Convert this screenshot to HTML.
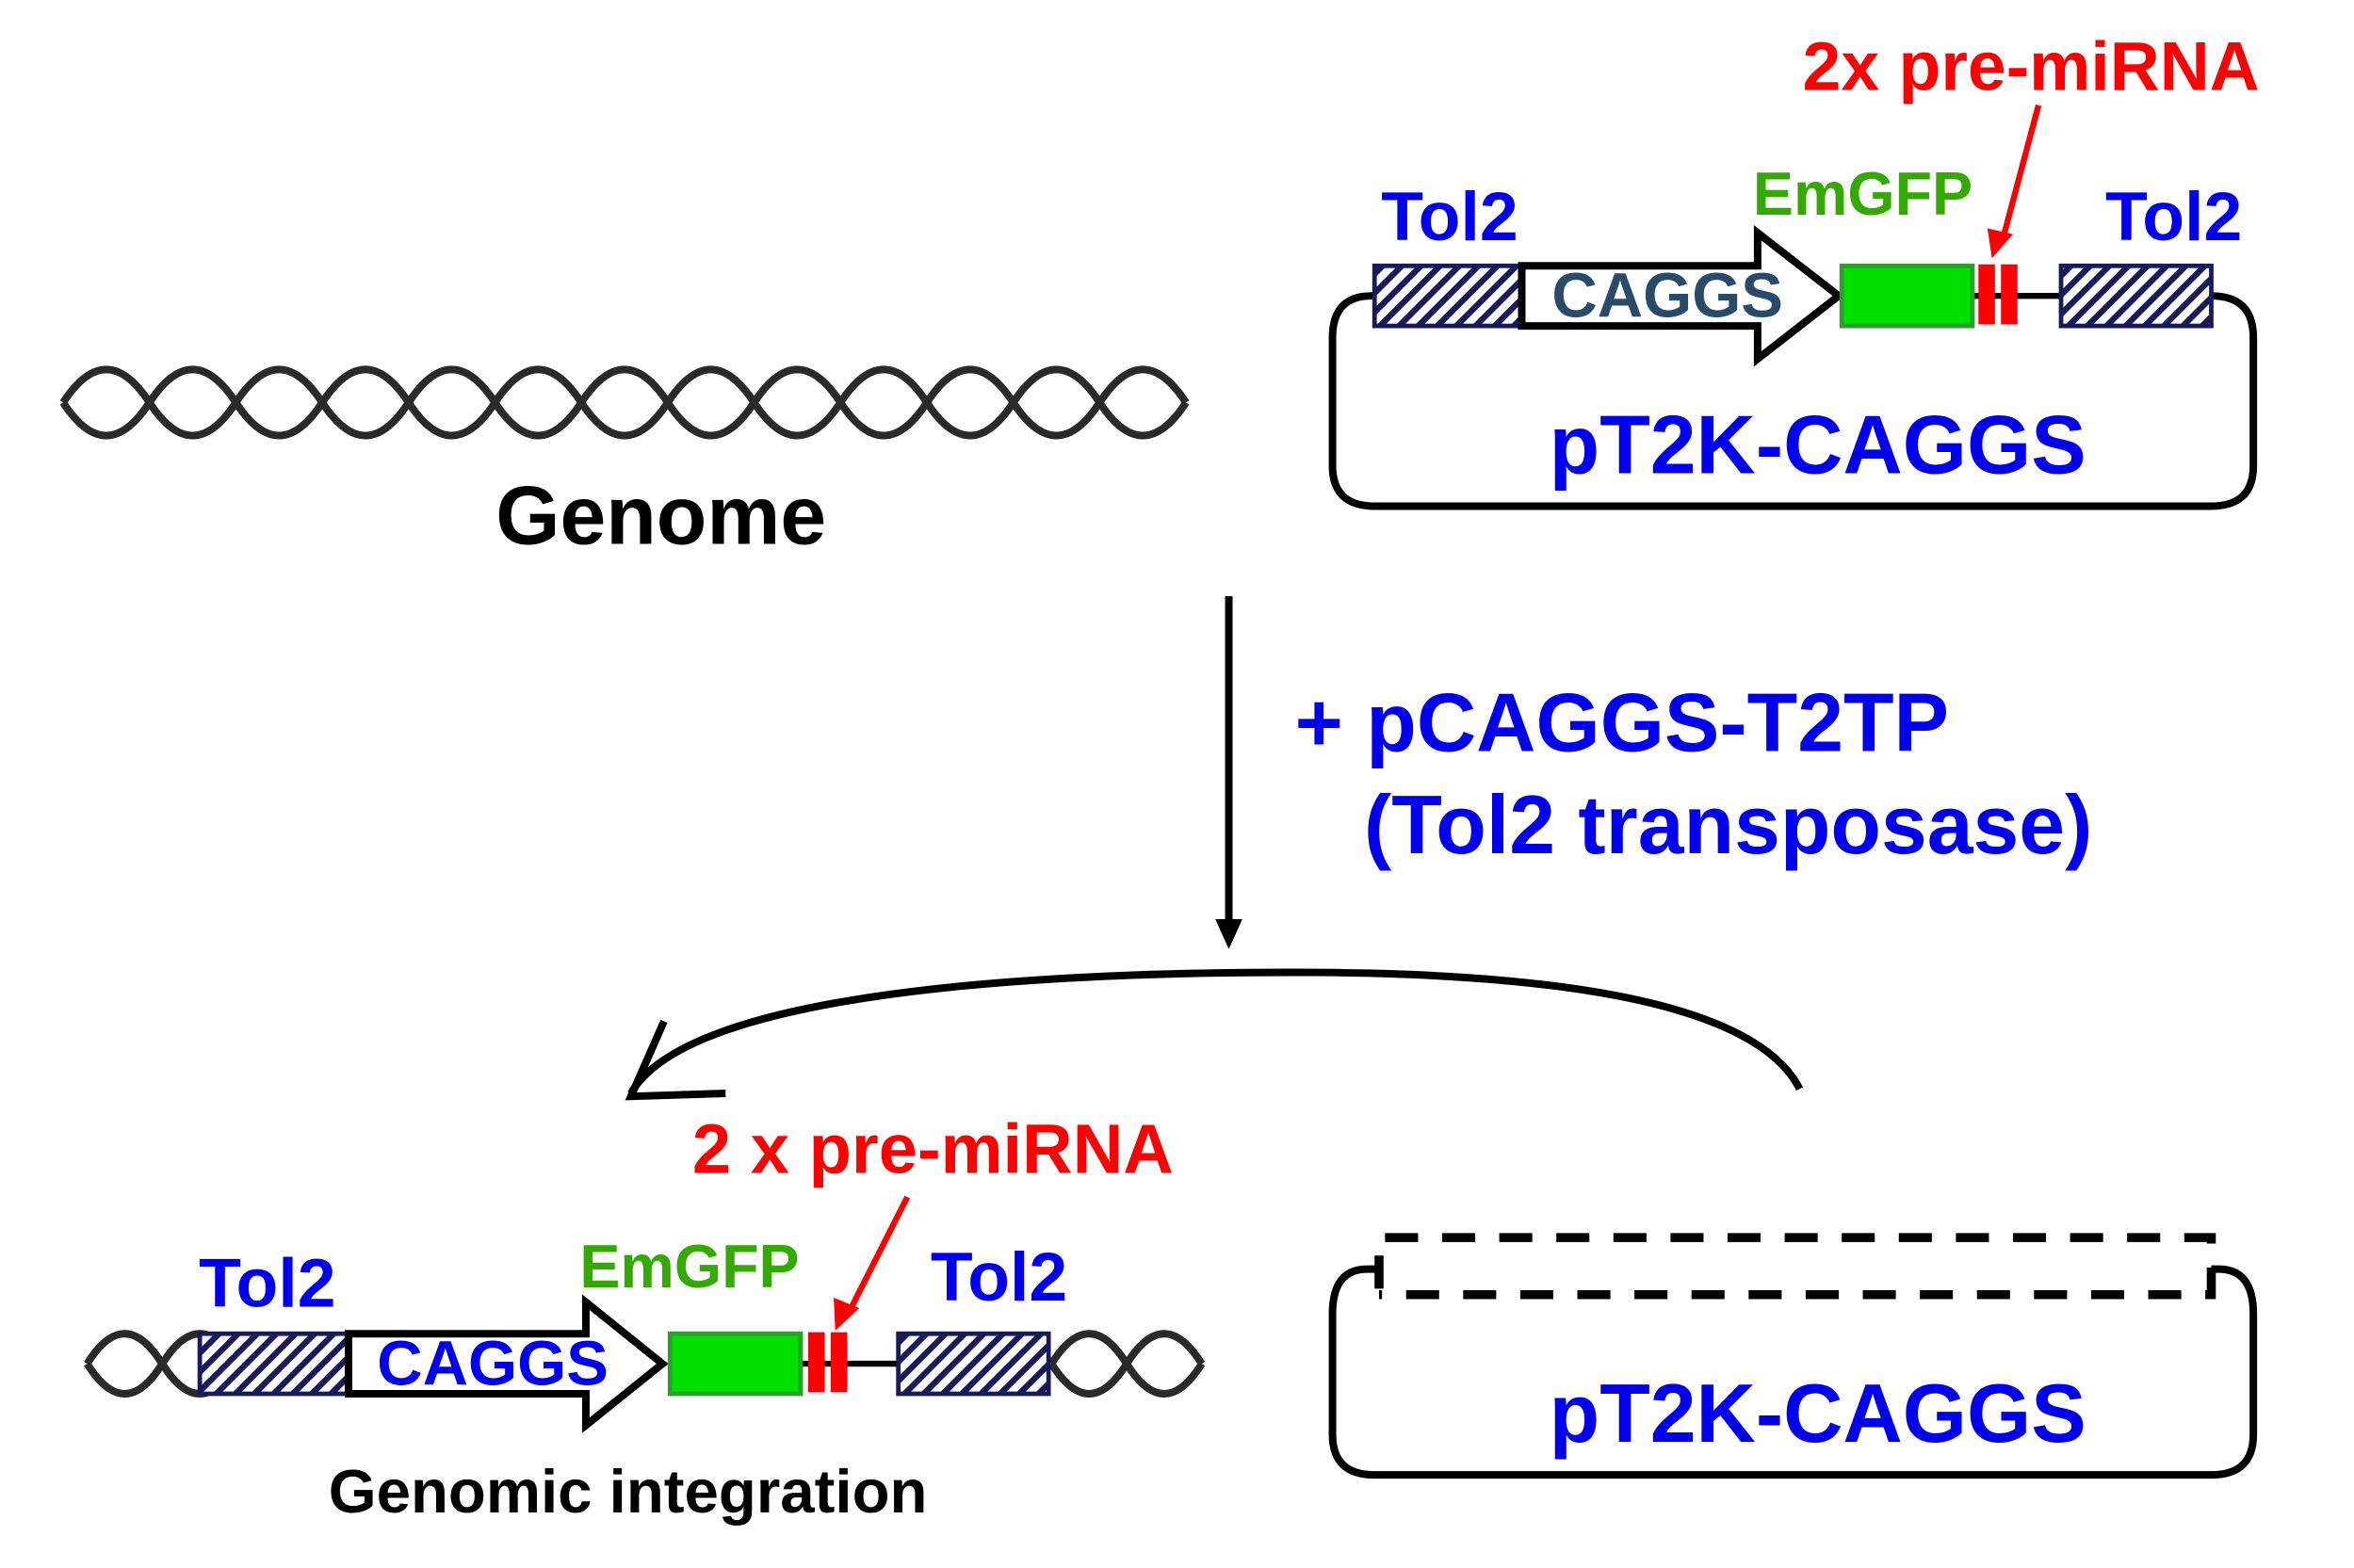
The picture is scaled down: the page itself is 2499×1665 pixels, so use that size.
<!DOCTYPE html>
<html><head><meta charset="utf-8"><style>html,body{margin:0;padding:0;background:#fff}svg{display:block}</style></head>
<body>
<svg width="2499" height="1665" viewBox="0 0 1567 1044" preserveAspectRatio="none" xmlns="http://www.w3.org/2000/svg" font-family="Liberation Sans, Arial, sans-serif" font-weight="bold">
<defs>
<pattern id="h" width="9" height="9" patternUnits="userSpaceOnUse" patternTransform="rotate(45)">
<rect width="9" height="9" fill="#fff"/><rect width="4" height="9" fill="#1a1a5a"/>
</pattern>
</defs>
<!-- genome helix -->
<g fill="none" stroke="#2a2a2a" stroke-width="5">
<path d="M42,268 q28.75,-44 57.5,0 t57.5,0 t57.5,0 t57.5,0 t57.5,0 t57.5,0 t57.5,0 t57.5,0 t57.5,0 t57.5,0 t57.5,0 t57.5,0 t57.5,0"/>
<path d="M42,268 q28.75,44 57.5,0 t57.5,0 t57.5,0 t57.5,0 t57.5,0 t57.5,0 t57.5,0 t57.5,0 t57.5,0 t57.5,0 t57.5,0 t57.5,0 t57.5,0"/>
</g>
<text x="440" y="362" font-size="55" text-anchor="middle" fill="#000">Genome</text>

<!-- top plasmid -->
<path d="M915,197 H913 Q887,197 887,225 V310 Q887,337 915,337 H1472 Q1500,337 1500,310 V225 Q1500,197 1472,197" fill="none" stroke="#000" stroke-width="5"/>
<line x1="1313" y1="197" x2="1372" y2="197" stroke="#000" stroke-width="4"/>
<rect x="915" y="177" width="98" height="40" fill="url(#h)" stroke="#1a1a5a" stroke-width="3"/>
<rect x="1372" y="177" width="100" height="40" fill="url(#h)" stroke="#1a1a5a" stroke-width="3"/>
<path d="M1013,177 H1170 V155 L1224,197 L1170,239 V217 H1013 Z" fill="#fff" stroke="#000" stroke-width="5"/>
<rect x="1226" y="177" width="87" height="40" fill="#00e000" stroke="#2aa02a" stroke-width="3"/>
<rect x="1317" y="176" width="11" height="40" fill="#f00"/><rect x="1332" y="176" width="11" height="40" fill="#f00"/>
<text x="965" y="160" font-size="46" text-anchor="middle" fill="#0000ee">Tol2</text>
<text x="1447" y="160" font-size="46" text-anchor="middle" fill="#0000ee">Tol2</text>
<text x="1240" y="143" font-size="40.5" text-anchor="middle" fill="#33aa00">EmGFP</text>
<text x="1352" y="60" font-size="46" text-anchor="middle" fill="#f00">2x pre-miRNA</text>
<line x1="1357" y1="70" x2="1333" y2="160" stroke="#f00" stroke-width="4"/>
<path d="M1326,172 L1323,152 L1340,156 Z" fill="#f00"/>
<text x="1110" y="211" font-size="42" text-anchor="middle" fill="#2a4a6a">CAGGS</text>
<text x="1210" y="315" font-size="55" text-anchor="middle" fill="#0000ee">pT2K-CAGGS</text>

<!-- vertical arrow -->
<line x1="818" y1="397" x2="818" y2="615" stroke="#000" stroke-width="5"/>
<path d="M809,612 L827,612 L818,632 Z" fill="#000"/>
<text x="862" y="500" font-size="55" fill="#0000ee">+ pCAGGS-T2TP</text>
<text x="908" y="568" font-size="55" fill="#0000ee">(Tol2 transposase)</text>

<!-- curved arrow -->
<path d="M1198,725 C1160,650 950,645 800,648 C600,652 450,675 420,728" fill="none" stroke="#000" stroke-width="5"/>
<path d="M442,680 L420,730 L483,728" fill="none" stroke="#000" stroke-width="5"/>

<!-- bottom integration -->
<g fill="none" stroke="#2a2a2a" stroke-width="5">
<path d="M58,908 q25,-40 50,0 t50,0"/>
<path d="M58,908 q25,40 50,0 t50,0"/>
<path d="M700,908 q25,-40 50,0 t50,0"/>
<path d="M700,908 q25,40 50,0 t50,0"/>
</g>
<rect x="133" y="888" width="99" height="40" fill="url(#h)" stroke="#1a1a5a" stroke-width="3"/>
<line x1="533" y1="908" x2="598" y2="908" stroke="#000" stroke-width="4"/>
<rect x="598" y="888" width="100" height="40" fill="url(#h)" stroke="#1a1a5a" stroke-width="3"/>
<path d="M232,888 H390 V867 L441,908 L390,949 V928 H232 Z" fill="#fff" stroke="#000" stroke-width="5"/>
<rect x="446" y="888" width="87" height="40" fill="#00e000" stroke="#2aa02a" stroke-width="3"/>
<rect x="538" y="887" width="11" height="40" fill="#f00"/><rect x="553" y="887" width="11" height="40" fill="#f00"/>
<text x="178" y="870" font-size="46" text-anchor="middle" fill="#0000ee">Tol2</text>
<text x="665" y="866" font-size="46" text-anchor="middle" fill="#0000ee">Tol2</text>
<text x="459" y="857" font-size="40.5" text-anchor="middle" fill="#33aa00">EmGFP</text>
<text x="621" y="781" font-size="46.5" text-anchor="middle" fill="#f00">2 x pre-miRNA</text>
<line x1="604" y1="797" x2="566" y2="872" stroke="#f00" stroke-width="4"/>
<path d="M556,886 L555,864 L572,871 Z" fill="#f00"/>
<text x="328" y="922" font-size="42" text-anchor="middle" fill="#0000ee">CAGGS</text>
<text x="418" y="1007" font-size="41" text-anchor="middle" fill="#000">Genomic integration</text>

<!-- bottom plasmid -->
<path d="M917,845 H910 Q887,845 887,875 V955 Q887,982 915,982 H1472 Q1500,982 1500,955 V875 Q1500,845 1477,845 H1472" fill="none" stroke="#000" stroke-width="5"/>
<path d="M918,858 V824 H1472 V862 H918" fill="none" stroke="#000" stroke-width="6" stroke-dasharray="22,16"/>
<text x="1210" y="960" font-size="55" text-anchor="middle" fill="#0000ee">pT2K-CAGGS</text>
</svg>
</body></html>
